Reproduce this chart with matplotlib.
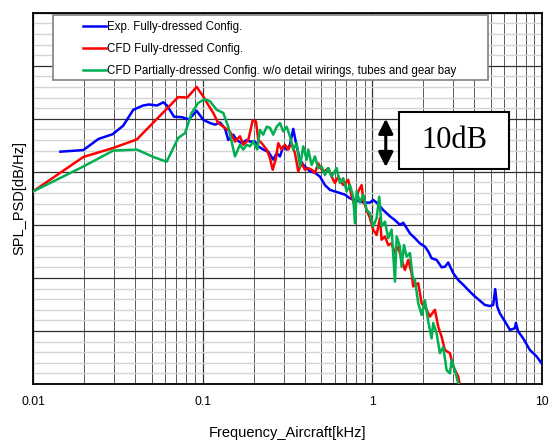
import numpy as np
import matplotlib
matplotlib.use("Agg")
import matplotlib.pyplot as plt
from matplotlib.patches import Rectangle
from matplotlib.ticker import FixedLocator, NullFormatter, MultipleLocator

plt.rcParams["font.family"] = ["Liberation Sans", "DejaVu Sans"]

# ---------------------------------------------------------------------
# Data (frequency in kHz, level in dB, relative)
# ---------------------------------------------------------------------
exp_freq = [0.0145, 0.0198, 0.0243, 0.0295, 0.034, 0.039, 0.0445, 0.0483, 0.0538, 0.0586,
            0.0616, 0.0678, 0.0752, 0.0830, 0.0922, 0.1008, 0.1104, 0.1181, 0.1265, 0.1353,
            0.1415, 0.1515, 0.1586, 0.1698, 0.1817, 0.1900, 0.2033, 0.2127, 0.2276, 0.2435,
            0.2606, 0.2729, 0.2854, 0.2985, 0.3126, 0.3269, 0.3419, 0.3580, 0.3744, 0.3916,
            0.4100, 0.4288, 0.4588, 0.4911, 0.5256, 0.5625, 0.6020, 0.6443, 0.6895, 0.7379,
            0.7898, 0.8450, 0.9044, 0.9678, 1.012, 1.060, 1.109, 1.159, 1.214, 1.270,
            1.359, 1.454, 1.521, 1.593, 1.666, 1.782, 1.908, 2.042, 2.135, 2.236,
            2.392, 2.561, 2.678, 2.801, 2.997, 3.208, 3.434, 3.759, 4.023, 4.305,
            4.608, 4.932, 5.157, 5.299, 5.445, 5.648, 6.045, 6.469, 6.923, 7.018,
            7.241, 7.747, 8.487, 9.294, 9.945]
exp_spl = [73.8, 74.1, 76.2, 77.1, 78.7, 81.7, 82.5, 82.7, 82.5, 83.1,
           82.5, 80.4, 80.3, 79.9, 81.5, 79.8, 79.2, 78.9, 79.3, 78.2,
           76.0, 77.0, 76.0, 75.4, 76.0, 75.7, 75.7, 74.8, 74.2, 73.8,
           72.3, 73.5, 72.9, 74.8, 74.2, 75.1, 78.1, 74.8, 72.3, 71.3,
           70.7, 70.1, 69.8, 69.1, 67.5, 66.6, 66.3, 66.0, 65.7, 65.0,
           64.7, 64.4, 64.2, 64.2, 64.7, 64.2, 63.5, 62.8, 62.2, 61.6,
           60.9, 60.0, 60.4, 59.4, 58.4, 57.5, 56.5, 55.9, 55.0, 53.7,
           53.4, 52.0, 52.1, 52.9, 50.9, 49.6, 48.7, 47.4, 46.5, 45.7,
           44.9, 44.7, 44.9, 47.9, 44.6, 43.3, 41.8, 40.2, 40.5, 41.5,
           39.9, 38.6, 36.4, 35.2, 33.9]

cfd_full_freq = [0.0100, 0.0198, 0.0297, 0.0409, 0.0718, 0.0811, 0.0922, 0.1008, 0.1079, 0.1155,
                 0.1235, 0.1322, 0.1448, 0.1550, 0.1659, 0.1735, 0.1857, 0.1971, 0.2061, 0.2127,
                 0.2227, 0.2383, 0.2492, 0.2585, 0.2703, 0.2789, 0.2920, 0.3055, 0.3194, 0.3345,
                 0.3499, 0.3659, 0.3833, 0.4007, 0.4190, 0.4387, 0.4588, 0.4800, 0.5026, 0.5256,
                 0.5497, 0.5756, 0.6020, 0.6296, 0.6738, 0.7211, 0.7551, 0.7898, 0.8258, 0.8648,
                 0.8839, 0.9256, 0.9678, 1.012, 1.060, 1.109, 1.134, 1.187, 1.241, 1.299,
                 1.359, 1.421, 1.488, 1.557, 1.628, 1.704, 1.742, 1.865, 1.952, 2.089,
                 2.185, 2.338, 2.445, 2.561, 2.678, 2.867, 2.997, 3.208, 3.283]
cfd_full_spl = [66.3, 72.8, 74.5, 76.1, 84.1, 84.0, 86.0, 84.2, 82.6, 81.1,
                79.2, 78.5, 77.6, 75.7, 76.7, 75.1, 76.0, 79.7, 79.5, 76.0,
                75.4, 74.2, 72.6, 70.4, 72.5, 75.4, 74.2, 75.1, 74.2, 75.4,
                73.5, 70.1, 71.6, 70.4, 70.7, 70.4, 69.8, 71.6, 70.4, 70.1,
                70.7, 69.1, 67.9, 69.1, 67.5, 68.5, 65.3, 63.5, 66.3, 67.5,
                64.7, 62.8, 61.3, 59.1, 58.1, 61.3, 57.2, 57.8, 56.2, 56.5,
                54.7, 55.9, 53.4, 51.5, 53.4, 50.9, 48.4, 49.0, 45.2, 44.0,
                42.7, 44.0, 40.8, 38.9, 36.4, 35.8, 33.3, 31.4, 29.8]

cfd_part_freq = [0.0100, 0.0198, 0.0297, 0.0409, 0.0512, 0.0613, 0.0718, 0.0787, 0.0861, 0.0942,
                 0.1031, 0.1104, 0.1209, 0.1322, 0.1415, 0.1550, 0.1659, 0.1735, 0.1817, 0.1900,
                 0.1987, 0.2098, 0.2176, 0.2276, 0.2383, 0.2492, 0.2606, 0.2729, 0.2854, 0.2985,
                 0.3126, 0.3269, 0.3419, 0.3580, 0.3744, 0.3916, 0.4100, 0.4190, 0.4387, 0.4588,
                 0.4800, 0.5026, 0.5256, 0.5497, 0.5756, 0.6160, 0.6443, 0.6738, 0.7055, 0.7379,
                 0.7716, 0.7898, 0.8082, 0.8450, 0.8839, 0.9256, 0.9678, 1.012, 1.060, 1.098,
                 1.134, 1.187, 1.241, 1.299, 1.359, 1.391, 1.454, 1.488, 1.536, 1.593,
                 1.666, 1.728, 1.782, 1.865, 1.952, 2.042, 2.135, 2.236, 2.285, 2.392,
                 2.502, 2.617, 2.741, 2.867, 2.934, 3.067, 3.208, 3.283]
cfd_part_spl = [66.3, 71.0, 74.0, 74.2, 72.8, 71.9, 76.4, 77.3, 81.1, 83.0,
                83.7, 83.3, 81.7, 81.1, 78.5, 72.9, 75.1, 74.2, 75.1, 74.8,
                75.7, 74.2, 77.9, 77.0, 78.5, 78.3, 77.0, 78.5, 79.2, 77.6,
                78.5, 76.7, 74.2, 75.4, 71.0, 74.8, 72.3, 74.2, 71.3, 72.9,
                70.7, 71.0, 69.4, 70.7, 69.1, 70.7, 67.9, 68.8, 66.3, 67.5,
                65.3, 60.3, 66.3, 64.2, 65.7, 62.8, 62.2, 59.7, 61.3, 65.3,
                59.7, 60.6, 57.5, 59.1, 49.3, 57.8, 55.9, 52.1, 56.2, 54.0,
                54.7, 50.2, 49.6, 45.2, 43.0, 45.8, 41.8, 38.6, 41.5, 39.6,
                35.8, 37.0, 32.6, 32.0, 34.5, 32.6, 30.1, 29.6]

labels = ["Exp. Fully-dressed Config.",
          "CFD Fully-dressed Config.",
          "CFD Partially-dressed Config. w/o detail wirings, tubes and gear bay"]
colors = ["#0000ff", "#ff0000", "#00b050"]

xtick_vals = [0.01, 0.1, 1, 10]
xtick_text = ["0.01", "0.1", "1", "10"]

# ---------------------------------------------------------------------
fig = plt.figure(figsize=(5.56, 4.41), dpi=100)
ax = fig.add_axes([0.0594, 0.1293, 0.9154, 0.8419])

series = [(exp_freq, exp_spl), (cfd_full_freq, cfd_full_spl), (cfd_part_freq, cfd_part_spl)]
for (f, s), lab, c in zip(series, labels, colors):
    ax.plot(f, s, color=c, lw=1.8, label=lab, solid_joinstyle="round", zorder=3)

ax.set_xscale("log")
ax.set_xlim(0.01, 10)
ax.set_ylim(30, 100)

ax.xaxis.set_major_locator(FixedLocator(xtick_vals))
ax.set_xticklabels(xtick_text)
ax.xaxis.set_minor_locator(FixedLocator([m * 10.0 ** e for e in (-2, -1, 0) for m in range(2, 10)]))
ax.xaxis.set_minor_formatter(NullFormatter())
ax.yaxis.set_major_locator(MultipleLocator(10))
ax.yaxis.set_minor_locator(MultipleLocator(2))
ax.set_yticklabels([])
ax.tick_params(which="both", length=0, labelsize=8.8, pad=9)

ax.grid(which="minor", axis="y", color="#d4d4d4", lw=1.0)
ax.grid(which="minor", axis="x", color="#5a5a5a", lw=0.7)
ax.grid(which="major", axis="both", color="#303030", lw=0.9)
ax.set_axisbelow(True)
for sp in ax.spines.values():
    sp.set_linewidth(1.3)
    sp.set_color("black")

ax.set_xlabel("Frequency_Aircraft[kHz]", fontsize=10.5)
ax.xaxis.set_label_coords(0.5, -0.113)
ax.set_ylabel("SPL_PSD[dB/Hz]", fontsize=10.5)
ax.yaxis.set_label_coords(-0.014, 0.5)

# legend box (drawn by hand so it can be wider than its content)
ax.add_patch(Rectangle((0.0393, 0.8188), 0.8546, 0.1751, transform=ax.transAxes,
                       facecolor="white", edgecolor="#808080", lw=1.2, zorder=5))
leg = ax.legend(loc="upper left", bbox_to_anchor=(0.0982, 0.9777), frameon=False,
                fontsize=8.3, handlelength=2.0, handletextpad=0.05, labelspacing=0.86,
                borderpad=0, borderaxespad=0)
leg.set_zorder(6)
for h in leg.get_lines():
    h.set_linewidth(1.8)

# 10 dB scale marker
ax.annotate("", xy=(1.2, 80.0), xytext=(1.2, 70.9),
            arrowprops=dict(arrowstyle="<|-|>", color="black", lw=2.2, mutation_scale=22,
                            shrinkA=0, shrinkB=0),
            zorder=6)
ax.add_patch(Rectangle((0.7191, 0.5791), 0.2161, 0.1535, transform=ax.transAxes,
                       facecolor="white", edgecolor="black", lw=1.5, zorder=5))
ax.text(0.7191 + 0.2161 / 2, 0.5791 + 0.1535 / 2, "10dB", transform=ax.transAxes,
        ha="center", va="center", fontsize=22, family="Liberation Serif", zorder=6)

fig.savefig("out.png", dpi=100, facecolor="white")
